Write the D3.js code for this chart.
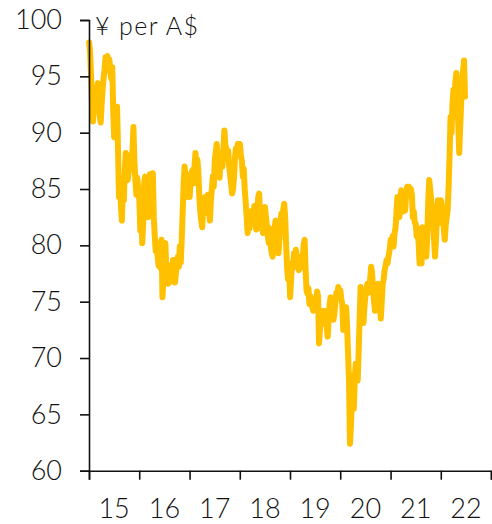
<!DOCTYPE html>
<html>
<head>
<meta charset="utf-8">
<script src="https://cdn.jsdelivr.net/npm/d3@7"></script>
<style>
  html, body { margin: 0; padding: 0; background: #fff; }
  svg { display: block; }
  text { font-family: Lato, "Open Sans", sans-serif; font-weight: 300; fill: #111; }
</style>
</head>
<body>
<svg id="chart" width="492" height="524"></svg>
<script>
// Weekly AUD/JPY closes, one array per calendar year
const val2015 = [98.0,97.2,95.0,92.5,91.0,92.8,93.5,92.0,93.8,94.4,92.8,91.5,90.9,92.5,93.9,94.8,95.6,96.7,96.2,96.8,95.9,96.5,95.4,94.8,95.8,92.0,89.6,90.5,91.2,92.3,88.5,84.3,86.0,83.5,82.2,85.5,84.0,86.5,88.2,87.0,85.8,86.4,88.0,87.2,86.8,88.4,90.5,87.5,85.8,84.5,86.0,85.0];
const val2016 = [84.0,81.3,83.5,80.2,82.0,85.5,86.1,83.0,85.8,82.5,85.0,86.3,84.0,86.0,86.4,82.5,80.8,79.5,80.2,79.0,78.2,79.5,78.0,80.5,75.4,77.0,79.8,80.2,78.0,77.5,76.6,78.2,77.0,76.8,77.5,78.7,77.0,76.7,77.5,78.3,79.0,78.1,79.9,78.5,80.5,83.0,85.5,87.0,85.8,86.3,84.3,85.2];
const val2017 = [84.3,85.8,86.5,86.7,85.5,87.0,88.2,86.8,87.6,86.5,84.2,83.0,82.2,81.6,83.5,82.8,84.3,84.0,83.2,84.5,83.0,82.2,84.0,85.0,86.1,85.2,87.5,88.3,89.0,88.0,86.4,86.0,87.5,88.2,87.0,88.5,90.2,89.0,88.5,87.9,88.4,87.0,86.2,85.5,84.6,85.0,86.0,87.8,88.6,88.0,89.0,88.5];
const val2018 = [89.0,88.0,87.5,86.1,86.8,85.0,83.8,82.5,81.1,82.0,81.5,83.0,82.0,83.1,82.3,83.5,82.0,81.4,83.0,84.3,84.6,82.5,81.5,82.0,81.1,82.5,83.4,82.5,81.8,80.8,80.2,81.5,80.0,79.3,79.0,80.5,81.5,82.2,81.0,79.8,79.3,80.5,81.8,82.8,82.0,83.2,83.7,82.5,80.0,78.0,77.0,78.0];
const val2019 = [75.4,77.0,78.4,78.0,79.3,78.5,79.6,79.0,78.2,77.8,78.5,78.0,79.0,78.6,80.0,80.5,78.0,76.0,75.7,76.2,74.8,75.5,75.1,74.5,74.2,74.6,74.4,75.0,75.9,75.5,71.3,72.5,74.2,73.0,73.5,74.2,73.2,73.6,72.8,71.9,73.5,74.8,75.4,74.5,74.0,73.4,74.0,75.0,75.8,75.5,76.3,76.0];
const val2020 = [76.0,75.2,74.8,72.5,73.5,74.0,74.5,72.8,70.4,68.0,62.4,64.0,66.5,68.5,65.5,68.2,69.5,68.8,68.0,70.5,73.5,76.3,75.2,74.0,73.1,74.5,75.5,76.0,76.6,75.8,76.2,77.0,78.1,77.5,76.0,75.0,74.2,75.5,76.0,76.6,75.5,74.5,73.5,75.0,76.6,77.0,77.8,78.2,78.7,78.4,79.0,79.5];
const val2021 = [80.5,80.0,80.8,79.9,81.1,81.5,83.0,84.3,83.5,82.5,84.0,84.9,84.2,83.0,84.0,83.1,84.5,85.2,84.8,85.2,84.5,85.0,84.5,82.5,83.0,82.0,81.9,80.8,81.5,80.2,78.4,79.5,78.4,81.6,80.5,81.0,79.5,79.0,81.0,84.0,85.8,85.0,84.0,83.0,82.0,80.5,79.0,80.5,82.5,84.0,83.0,82.0];
const val2022 = [84.0,83.5,82.5,81.5,80.5,81.8,82.5,83.1,85.2,88.0,91.4,90.0,92.5,93.8,92.0,94.5,95.3,93.0,90.8,88.2,90.5,92.5,94.7,95.5,96.4,93.2];

const years = [2015, 2016, 2017, 2018, 2019, 2020, 2021, 2022];
const yearValues = [val2015, val2016, val2017, val2018, val2019, val2020, val2021, val2022];
const yearLabels = ["15", "16", "17", "18", "19", "20", "21", "22"];
const yTicks = [60, 65, 70, 75, 80, 85, 90, 95, 100];
const unitLabel = "¥ per A$";

// Flatten into dated points, weekly from the first Friday of each year
const series = [];
years.forEach((yr, k) => {
  yearValues[k].forEach((v, i) => {
    series.push({ date: new Date(yr, 0, 2 + 7 * i), value: v });
  });
});

const svg = d3.select("#chart");
const plotLeft = 89, plotRight = 491, plotTop = 20, plotBottom = 470.7;

const x = d3.scaleTime()
  .domain([new Date(2015, 0, 1), new Date(2023, 0, 1)])
  .range([plotLeft, plotRight]);
const y = d3.scaleLinear().domain([60, 100]).range([plotBottom, plotTop]);

// Line
const line = d3.line()
  .x(d => x(d.date))
  .y(d => y(d.value))
  .curve(d3.curveLinear);

svg.append("path")
  .datum(series)
  .attr("d", line)
  .attr("fill", "none")
  .attr("stroke", "#FFC000")
  .attr("stroke-width", 6)
  .attr("stroke-linejoin", "round")
  .attr("stroke-linecap", "round");

// Y axis
const yAxis = d3.axisLeft(y).tickValues(yTicks).tickSize(9).tickPadding(18);
const gy = svg.append("g").attr("transform", `translate(${plotLeft},0)`).call(yAxis);
gy.select(".domain").attr("stroke", "#111").attr("stroke-width", 1.6);
gy.selectAll(".tick line").attr("stroke", "#111").attr("stroke-width", 1.6);
gy.selectAll(".tick text")
  .attr("font-family", "Lato, sans-serif")
  .attr("font-weight", 300)
  .attr("font-size", 27)
  .attr("fill", "#111");

// X axis: ticks at year boundaries, labels centred within each year
const tickDates = d3.range(2015, 2024).map(yr => new Date(yr, 0, 1));
const xAxis = d3.axisBottom(x).tickValues(tickDates).tickSize(9).tickFormat("");
const gx = svg.append("g").attr("transform", `translate(0,${plotBottom})`).call(xAxis);
gx.select(".domain").attr("stroke", "#111").attr("stroke-width", 1.6);
gx.selectAll(".tick line").attr("stroke", "#111").attr("stroke-width", 1.6);

svg.append("g").selectAll("text")
  .data(years)
  .join("text")
  .attr("x", (yr) => (x(new Date(yr, 0, 1)) + x(new Date(yr + 1, 0, 1))) / 2)
  .attr("y", 518)
  .attr("text-anchor", "middle")
  .attr("font-size", 27)
  .text((yr, i) => yearLabels[i]);

// Unit label
svg.append("text")
  .attr("x", 95)
  .attr("y", 35)
  .attr("font-size", 25)
  .attr("letter-spacing", 1.4)
  .text(unitLabel);
</script>
</body>
</html>
